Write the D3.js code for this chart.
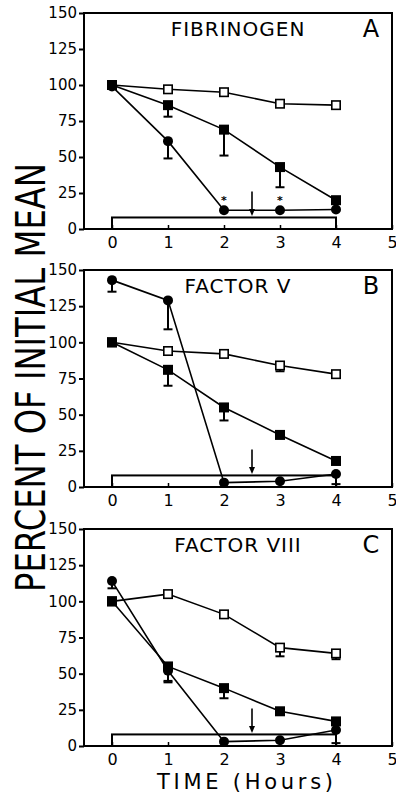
<!DOCTYPE html>
<html>
<head>
<meta charset="utf-8">
<script src="https://cdn.jsdelivr.net/npm/d3@7/dist/d3.min.js"></script>
<style>
  html, body { margin: 0; padding: 0; background: #fff; }
  svg { display: block; }
  text { font-family: "DejaVu Sans", sans-serif; fill: #000; }
</style>
</head>
<body>
<div id="chart"></div>
<script>
// Sampling times (hours)
const hours = [0, 1, 2, 3, 4];
const xTicks = [0, 1, 2, 3, 4, 5];
const yTicks = [0, 25, 50, 75, 100, 125, 150];

// Panel A: fibrinogen, percent of initial mean
const fibOpenSq   = [100, 97, 95, 87, 86];
const fibOpenErr  = [null, null, null, null, null];
const fibFillSq   = [100, 86, 69, 43, 20];
const fibFillErr  = [null, 78, 51, 29, null];
const fibCircle   = [99, 61, 13, 13, 13.5];
const fibCircErr  = [null, 49, null, null, null];
const fibStars    = [2, 3];

// Panel B: factor V
const fvOpenSq    = [100, 94, 92, 84, 78];
const fvOpenErr   = [null, null, null, 80, null];
const fvFillSq    = [100, 81, 55, 36, 18];
const fvFillErr   = [null, 70, 46, null, null];
const fvCircle    = [143, 129, 3, 4, 9];
const fvCircErr   = [135, 109, null, null, 2];

// Panel C: factor VIII
const f8OpenSq    = [100, 105, 91, 68, 64];
const f8OpenErr   = [null, null, null, 62, 60];
const f8FillSq    = [100, 55, 40, 24, 17];
const f8FillErr   = [null, 45, 33, null, null];
const f8Circle    = [114, 52, 3, 4, 11];
const f8CircErr   = [109, 44, null, null, 2];

// Treatment period bar (hours, level) and arrow marker
const barSpan = [0, 4];
const barLevel = 8;
const arrowAt = 2.5;
const arrowFrom = 26;
const arrowTo = 9;

const panels = [
  { title: "FIBRINOGEN", letter: "A", top: 13, bottom: 229,
    open: fibOpenSq, openErr: fibOpenErr, fill: fibFillSq, fillErr: fibFillErr,
    circ: fibCircle, circErr: fibCircErr, stars: fibStars },
  { title: "FACTOR V", letter: "B", top: 270, bottom: 487,
    open: fvOpenSq, openErr: fvOpenErr, fill: fvFillSq, fillErr: fvFillErr,
    circ: fvCircle, circErr: fvCircErr, stars: [] },
  { title: "FACTOR VIII", letter: "C", top: 529, bottom: 746,
    open: f8OpenSq, openErr: f8OpenErr, fill: f8FillSq, fillErr: f8FillErr,
    circ: f8Circle, circErr: f8CircErr, stars: [] }
];

const W = 396, H = 799;
const svg = d3.select("#chart").append("svg").attr("width", W).attr("height", H);

const x = d3.scaleLinear().domain([-0.5, 5]).range([84, 392]);

// Shared y-axis title
svg.append("text")
  .attr("transform", `translate(45,${(163 + 592) / 2}) rotate(-90)`)
  .attr("text-anchor", "middle")
  .attr("font-size", 40)
  .attr("textLength", 429)
  .attr("lengthAdjust", "spacingAndGlyphs")
  .text("PERCENT OF INITIAL MEAN");

// Shared x-axis title
svg.append("text")
  .attr("x", 245).attr("y", 789)
  .attr("text-anchor", "middle")
  .attr("font-size", 21)
  .attr("textLength", 176)
  .attr("lengthAdjust", "spacing")
  .text("TIME (Hours)");

const sqSize = 10, circR = 5, capW = 9;

panels.forEach(p => {
  const y = d3.scaleLinear().domain([0, 150]).range([p.bottom, p.top]);
  const g = svg.append("g");

  // Frame
  g.append("rect")
    .attr("x", x(-0.5)).attr("y", y(150))
    .attr("width", x(5) - x(-0.5)).attr("height", y(0) - y(150))
    .attr("fill", "none").attr("stroke", "#000").attr("stroke-width", 2);

  // Y ticks (outward) with labels
  const yAxis = d3.axisLeft(y).tickValues(yTicks).tickSize(5).tickPadding(2);
  const ya = g.append("g").attr("transform", `translate(${x(-0.5)},0)`).call(yAxis);
  ya.select(".domain").remove();
  ya.selectAll("line").attr("stroke", "#000").attr("stroke-width", 2);
  ya.selectAll("text").attr("font-size", 15).attr("font-family", "DejaVu Sans, sans-serif");

  // X ticks (inward) with labels
  const xAxis = d3.axisBottom(x).tickValues(xTicks).tickSize(-4).tickPadding(8)
    .tickFormat(d3.format("d"));
  const xa = g.append("g").attr("transform", `translate(0,${y(0)})`).call(xAxis);
  xa.select(".domain").remove();
  xa.selectAll("line").attr("stroke", "#000").attr("stroke-width", 1.5);
  xa.selectAll("text").attr("font-size", 16).attr("font-family", "DejaVu Sans, sans-serif");

  // Titles
  g.append("text").attr("x", 238).attr("y", p.top + 23)
    .attr("text-anchor", "middle").attr("font-size", 20).attr("letter-spacing", 1)
    .text(p.title);
  g.append("text").attr("x", 371).attr("y", p.top + 24)
    .attr("text-anchor", "middle").attr("font-size", 24)
    .text(p.letter);

  // Treatment bar
  g.append("rect")
    .attr("x", x(barSpan[0])).attr("y", y(barLevel))
    .attr("width", x(barSpan[1]) - x(barSpan[0])).attr("height", y(0) - y(barLevel))
    .attr("fill", "none").attr("stroke", "#000").attr("stroke-width", 2);

  // Arrow
  g.append("line")
    .attr("x1", x(arrowAt)).attr("x2", x(arrowAt))
    .attr("y1", y(arrowFrom)).attr("y2", y(arrowTo) - 5)
    .attr("stroke", "#000").attr("stroke-width", 1.6);
  const ax = x(arrowAt), ay = y(arrowTo);
  g.append("path")
    .attr("d", `M${ax - 3},${ay - 7}L${ax + 3},${ay - 7}L${ax},${ay}Z`)
    .attr("fill", "#000");

  const line = d3.line().x((d, i) => x(hours[i])).y(d => y(d));
  const drawLine = vals => g.append("path").datum(vals)
    .attr("d", line).attr("fill", "none").attr("stroke", "#000").attr("stroke-width", 1.6);

  const drawErr = (vals, errs) => {
    hours.forEach((h, i) => {
      if (errs[i] == null) return;
      g.append("line").attr("x1", x(h)).attr("x2", x(h))
        .attr("y1", y(vals[i])).attr("y2", y(errs[i]))
        .attr("stroke", "#000").attr("stroke-width", 2);
      g.append("line").attr("x1", x(h) - capW / 2).attr("x2", x(h) + capW / 2)
        .attr("y1", y(errs[i])).attr("y2", y(errs[i]))
        .attr("stroke", "#000").attr("stroke-width", 2);
    });
  };

  drawLine(p.open);
  drawLine(p.fill);
  drawLine(p.circ);
  drawErr(p.open, p.openErr);
  drawErr(p.fill, p.fillErr);
  drawErr(p.circ, p.circErr);

  // Open squares
  g.selectAll(null).data(p.open).enter().append("rect")
    .attr("x", (d, i) => x(hours[i]) - (sqSize - 1.6) / 2)
    .attr("y", d => y(d) - (sqSize - 1.6) / 2)
    .attr("width", sqSize - 1.6).attr("height", sqSize - 1.6)
    .attr("fill", "#fff").attr("stroke", "#000").attr("stroke-width", 1.6);

  // Filled squares
  g.selectAll(null).data(p.fill).enter().append("rect")
    .attr("x", (d, i) => x(hours[i]) - sqSize / 2)
    .attr("y", d => y(d) - sqSize / 2)
    .attr("width", sqSize).attr("height", sqSize)
    .attr("fill", "#000");

  // Filled circles
  g.selectAll(null).data(p.circ).enter().append("circle")
    .attr("cx", (d, i) => x(hours[i]))
    .attr("cy", d => y(d))
    .attr("r", circR).attr("fill", "#000");

  // Significance asterisks
  p.stars.forEach(h => {
    const i = hours.indexOf(h);
    g.append("text").attr("x", x(h)).attr("y", y(p.circ[i]) - 6)
      .attr("text-anchor", "middle").attr("font-size", 11).attr("font-weight", "bold")
      .text("*");
  });
});
</script>
</body>
</html>
